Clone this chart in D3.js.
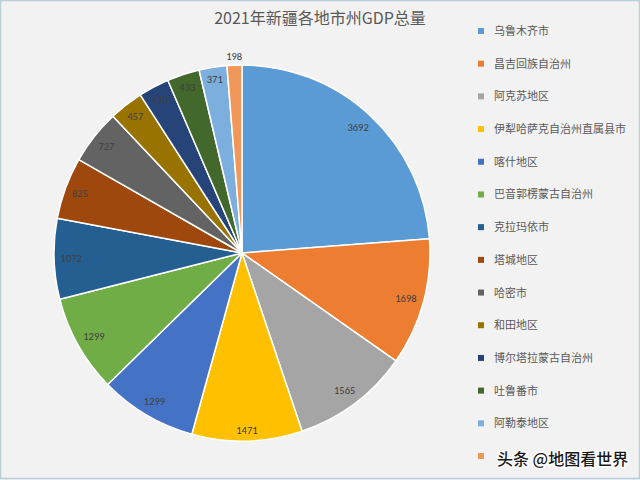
<!DOCTYPE html>
<html><head><meta charset="utf-8">
<script src="https://cdn.jsdelivr.net/npm/d3@7/dist/d3.min.js"></script>
<style>html,body{margin:0;padding:0;background:#f2f2f2;}svg{display:block;}</style>
</head><body>
<svg id="c" width="640" height="480"></svg>
<script>
const categories = ["乌鲁木齐市","昌吉回族自治州","阿克苏地区","伊犁哈萨克自治州直属县市","喀什地区","巴音郭楞蒙古自治州","克拉玛依市","塔城地区","哈密市","和田地区","博尔塔拉蒙古自治州","吐鲁番市","阿勒泰地区","克孜勒苏柯尔克孜自治州"];
const values = [3692,1698,1565,1471,1299,1299,1072,825,727,457,410,433,371,198];
const colors = ["#5B9BD5","#ED7D31","#A5A5A5","#FFC000","#4472C4","#70AD47","#255E91","#9E480E","#636363","#997300","#264478","#43682B","#7CAFDD","#F1975A"];
const title = "2021年新疆各地市州GDP总量";
const watermark = "头条 @地图看世界";

const svg = d3.select("#c");
svg.append("rect").attr("x",0.5).attr("y",0.5).attr("width",639).attr("height",478)
  .attr("fill","#f2f2f2").attr("stroke","#b9d0d8").attr("stroke-width",1.5);

svg.append("text").attr("x",320).attr("y",24).attr("text-anchor","middle")
  .attr("font-family","Noto Sans CJK SC").attr("font-size",16).attr("fill","#595959").text(title);

const cx = 242, cy = 253, R = 188;
const data = categories.map((c,i)=>({name:c, value:values[i], color:colors[i]}));
const pie = d3.pie().value(d=>d.value).sort(null);
const arcs = pie(data);
const arc = d3.arc().innerRadius(0).outerRadius(R);
const g = svg.append("g").attr("transform",`translate(${cx},${cy})`);
g.selectAll("path").data(arcs).join("path")
  .attr("d",arc).attr("fill",d=>d.data.color)
  .attr("stroke","#ffffff").attr("stroke-width",1.5).attr("stroke-linejoin","round");

g.selectAll("text.lbl").data(arcs).join("text").attr("class","lbl")
  .each(function(d){
    const a = (d.startAngle+d.endAngle)/2;
    const s = Math.sin(a), c = Math.cos(a);
    const txt = String(d.data.value);
    const w = txt.length*6, h = 11;
    const half = Math.abs(s)*w/2 + Math.abs(c)*h/2;
    const tooSmall = (d.endAngle - d.startAngle) * (R - 12) < w + 2;
    const r = tooSmall ? R + 3 + half : R - 5 - half;
    d3.select(this).attr("x", s*r).attr("y", -c*r).attr("dy","0.35em")
      .attr("text-anchor","middle").attr("font-family","Calibri, Carlito, 'Liberation Sans', sans-serif")
      .attr("font-size",10.5).attr("fill","#404040").text(txt);
  });

const lg = svg.append("g");
const rowY = d3.scaleLinear().domain([0,13]).range([31,456]);
const items = lg.selectAll("g").data(data).join("g").attr("transform",(d,i)=>`translate(478,${rowY(i)})`);
items.append("rect").attr("x",0).attr("y",-3).attr("width",6).attr("height",6).attr("fill",d=>d.color);
// the last legend label is hidden under the watermark in the reference
items.filter((d,i)=>i < categories.length-1).append("text").attr("x",16).attr("y",0).attr("dy","0.36em")
  .attr("font-family","Noto Sans CJK SC").attr("font-size",11).attr("fill","#595959").text(d=>d.name);

svg.append("text").attr("x",497).attr("y",465)
  .attr("font-family","Noto Sans CJK SC").attr("font-size",16).attr("font-weight",500).attr("fill","#1a1a1a")
  .attr("stroke","#ffffff").attr("stroke-width",3).attr("paint-order","stroke")
  .text(watermark);
</script>
</body></html>
